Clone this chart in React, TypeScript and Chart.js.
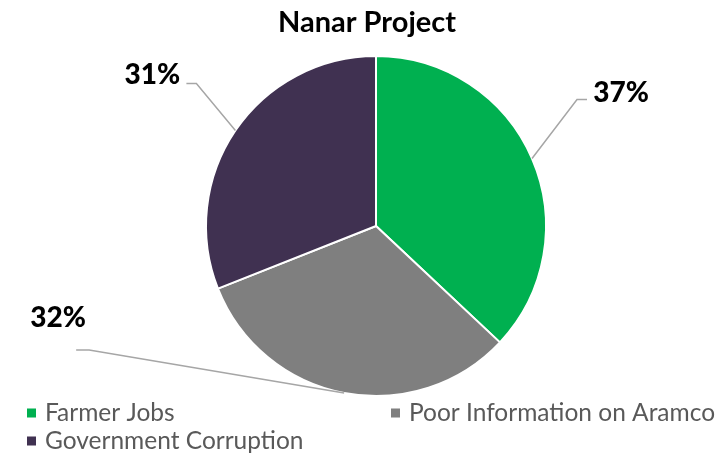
import React, { useEffect, useRef } from "react";
import { Chart, registerables } from "chart.js";

Chart.register(...registerables);

const title = "Nanar Project";
const categories = ["Farmer Jobs", "Poor Information on Aramco", "Government Corruption"];
const values = [37, 32, 31];
const colors = ["#00B050", "#7F7F7F", "#403151"];
// label placement relative to slice edge midpoint
const labelLayout = [
  { ex: 45, ey: -59, hx: 10, lx: 89, ly: -66 },
  { ex: -255, ey: -43, hx: -13, lx: -286, ly: -75 },
  { ex: -39, ey: -47, hx: -10, lx: -83, ly: -55 },
];
const legendPos = [
  { x: 27, y: 413 },
  { x: 391, y: 413 },
  { x: 27, y: 441 },
];

const FONT = "Lato, 'Open Sans', sans-serif";

const overlay = {
  id: "overlay",
  afterDraw(chart: any) {
    const ctx = chart.ctx as CanvasRenderingContext2D;
    const meta = chart.getDatasetMeta(0);
    ctx.save();
    ctx.fillStyle = "#000";
    ctx.font = `bold 29px ${FONT}`;
    ctx.textAlign = "center";
    ctx.textBaseline = "middle";
    ctx.fillText(title, 367, 23);

    const total = values.reduce((a, b) => a + b, 0);
    meta.data.forEach((arc: any, i: number) => {
      const { x, y, startAngle, endAngle, outerRadius } = arc.getProps(
        ["x", "y", "startAngle", "endAngle", "outerRadius"], true);
      const mid = (startAngle + endAngle) / 2;
      const px = x + Math.cos(mid) * outerRadius;
      const py = y + Math.sin(mid) * outerRadius;
      const L = labelLayout[i];
      ctx.strokeStyle = "#A6A6A6";
      ctx.lineWidth = 1.5;
      ctx.beginPath();
      ctx.moveTo(px, py);
      ctx.lineTo(px + L.ex, py + L.ey);
      ctx.lineTo(px + L.ex + L.hx, py + L.ey);
      ctx.stroke();
      ctx.fillStyle = "#000";
      ctx.font = `900 28px ${FONT}`;
      ctx.textAlign = "center";
      ctx.textBaseline = "middle";
      ctx.fillText(Math.round((values[i] / total) * 100) + "%", px + L.lx, py + L.ly);
    });

    ctx.font = `24.5px ${FONT}`;
    ctx.textAlign = "left";
    ctx.textBaseline = "middle";
    categories.forEach((c, i) => {
      const p = legendPos[i];
      ctx.fillStyle = colors[i];
      ctx.fillRect(p.x, p.y - 4.5, 9, 9);
      ctx.fillStyle = "#595959";
      ctx.fillText(c, p.x + 18, p.y);
    });
    ctx.restore();
  },
};

export default function App() {
  const ref = useRef<HTMLCanvasElement>(null);
  useEffect(() => {
    document.body.style.margin = "0";
    const chart = new Chart(ref.current!, {
      type: "pie",
      data: {
        labels: categories,
        datasets: [
          {
            data: values,
            backgroundColor: colors,
            borderColor: "#FFFFFF",
            borderWidth: 2,
          },
        ],
      },
      options: {
        animation: false,
        responsive: false,
        layout: { padding: { top: 55, bottom: 59, left: 205, right: 173 } },
        plugins: {
          legend: { display: false },
          tooltip: { enabled: false },
          title: { display: false },
        },
      },
      plugins: [overlay],
    });
    return () => chart.destroy();
  }, []);
  return (
    <div style={{ width: 720, height: 456 }}>
      <canvas ref={ref} width={720} height={456} style={{ display: "block" }} />
    </div>
  );
}
